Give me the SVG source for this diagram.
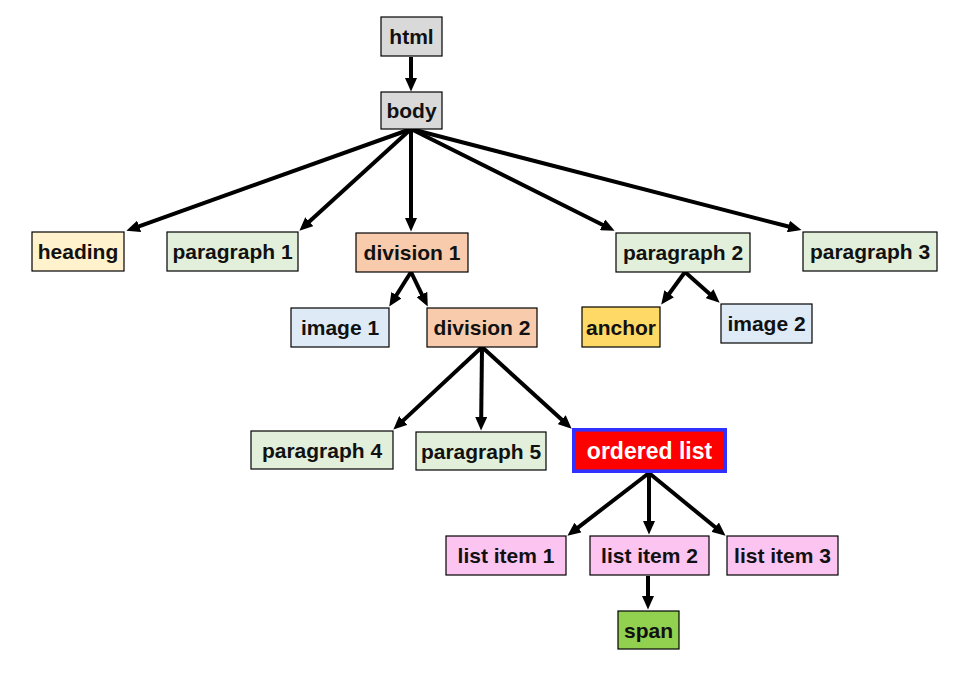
<svg xmlns="http://www.w3.org/2000/svg" width="974" height="673" viewBox="0 0 974 673">
<defs>
<marker id="ah" markerUnits="userSpaceOnUse" markerWidth="14" markerHeight="12" refX="1" refY="6" orient="auto">
<path d="M0,0 L13.5,6 L0,12 Z" fill="#000"/>
</marker>
<style>
rect{stroke:#000;stroke-width:1.2}
text{font-family:"Liberation Sans",Arial,sans-serif;font-weight:bold;font-size:21px;fill:#111;text-anchor:middle}
.gray{fill:#d9d9d9}.yel{fill:#fff2cc}.grn{fill:#e2efda}.org{fill:#f8cbad}.blu{fill:#deebf7}.gold{fill:#ffd966}.pink{fill:#fbc4f1}.lime{fill:#92d050}
#connectors line{stroke:#000;stroke-width:4;marker-end:url(#ah)}
</style>
</defs>
<rect width="974" height="673" fill="#fff" style="stroke:none"/>
<g id="connectors">
<line x1="411" y1="57" x2="411" y2="79"/>
<line x1="411" y1="129" x2="138.2" y2="226.6"/>
<line x1="411" y1="129" x2="308.6" y2="222.3"/>
<line x1="411" y1="129" x2="411" y2="219"/>
<line x1="411" y1="129" x2="603.4" y2="225.2"/>
<line x1="411" y1="129" x2="789.4" y2="226.8"/>
<line x1="411" y1="272" x2="395.9" y2="296"/>
<line x1="411" y1="272" x2="422.3" y2="295.3"/>
<line x1="685" y1="272" x2="668.6" y2="294.5"/>
<line x1="685" y1="272" x2="710.3" y2="294.4"/>
<line x1="482" y1="347" x2="402.5" y2="421.1"/>
<line x1="482" y1="347" x2="481.2" y2="418"/>
<line x1="482" y1="347" x2="562.4" y2="420.3"/>
<line x1="649" y1="473" x2="577.3" y2="528.1"/>
<line x1="649" y1="473" x2="649" y2="522"/>
<line x1="649" y1="473" x2="715.9" y2="527.8"/>
<line x1="648" y1="576" x2="648" y2="597"/>
</g>
<g id="html"><rect class="gray" x="381" y="17" width="61" height="39"/><text x="411.5" y="44">html</text></g>
<g id="body"><rect class="gray" x="381" y="92" width="61" height="37"/><text x="411.5" y="117.5">body</text></g>
<g id="heading"><rect class="yel" x="32" y="232" width="92" height="39"/><text x="78" y="259">heading</text></g>
<g id="paragraph1"><rect class="grn" x="167" y="232" width="131" height="39"/><text x="232.5" y="259">paragraph 1</text></g>
<g id="division1"><rect class="org" x="356" y="233" width="112" height="39"/><text x="412" y="260">division 1</text></g>
<g id="paragraph2"><rect class="grn" x="616" y="233" width="134" height="39"/><text x="683" y="260">paragraph 2</text></g>
<g id="paragraph3"><rect class="grn" x="803" y="232" width="134" height="39"/><text x="870" y="259">paragraph 3</text></g>
<g id="image1"><rect class="blu" x="291" y="308" width="98" height="39"/><text x="340" y="335">image 1</text></g>
<g id="division2"><rect class="org" x="427" y="308" width="110" height="39"/><text x="482" y="335">division 2</text></g>
<g id="anchor"><rect class="gold" x="582" y="307" width="78" height="40"/><text x="621" y="334.5">anchor</text></g>
<g id="image2"><rect class="blu" x="721" y="304" width="91" height="39"/><text x="766.5" y="331">image 2</text></g>
<g id="paragraph4"><rect class="grn" x="251" y="431" width="142" height="38"/><text x="322" y="457.5">paragraph 4</text></g>
<g id="paragraph5"><rect class="grn" x="416" y="432" width="130" height="38"/><text x="481" y="458.5">paragraph 5</text></g>
<g id="orderedlist"><rect x="573.8" y="429.8" width="151.4" height="41.4" style="fill:#ff0000;stroke:#3030ff;stroke-width:3.6"/><text x="649.5" y="459" style="fill:#fff;font-size:23px">ordered list</text></g>
<g id="listitem1"><rect class="pink" x="446" y="536" width="120" height="39"/><text x="506" y="563">list item 1</text></g>
<g id="listitem2"><rect class="pink" x="590" y="536" width="119" height="39"/><text x="649.5" y="563">list item 2</text></g>
<g id="listitem3"><rect class="pink" x="727" y="536" width="111" height="39"/><text x="782.5" y="563">list item 3</text></g>
<g id="span"><rect class="lime" x="618" y="611" width="61" height="38"/><text x="648.5" y="637.5">span</text></g>
</svg>
